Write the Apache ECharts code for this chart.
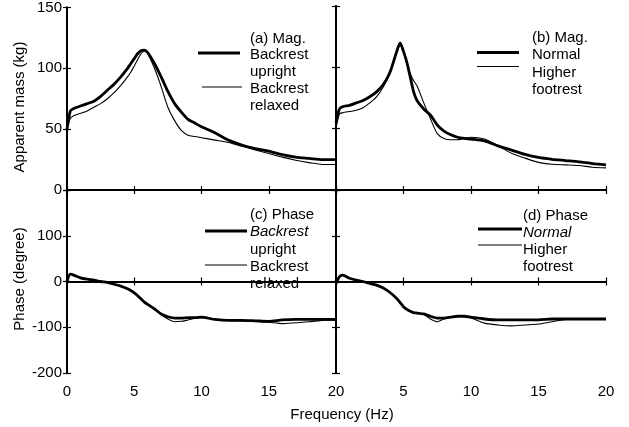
<!DOCTYPE html>
<html>
<head>
<meta charset="utf-8">
<script src="https://cdn.jsdelivr.net/npm/echarts@6/dist/echarts.min.js"></script>
<style>
html,body{margin:0;padding:0;background:#fff;}
#c{width:629px;height:427px;}
</style>
</head>
<body>
<div id="c"></div>
<script>
// ---- data (frequency in Hz) ----
const freq = [0,0.25,0.5,1,1.5,2,2.5,3,3.5,4,4.5,4.75,5,5.25,5.5,5.75,6,6.5,7,7.5,8,8.5,9,9.5,10,11,12,13,14,15,16,17,18,19,20];

// (a) Magnitude, backrest conditions (kg)
const magUpright = [50,65,67,69,71,73,77,82,87,93,100,104,108,112,114.5,115,113,104,93,81,71,64,58,55,52,47,41,37,34,32,29,27,26,25,25];
const magRelaxed = [50,59,61,63,65,68,71,75,80,86,93,97,102,107,112,114,112,100,85,68,57,49,45,44,43,41,39,36,33,30,27,24.5,22.5,21,21];

// (b) Magnitude, footrest conditions (kg)
const magNormal  = [55,66,68,69,71,73,76,80,86,96,113,120,113,104,92,80,73,66,61,53,48,45,43,42,41.5,40,36,32.5,29,26.5,25,24,23,21.5,20.5];
const magHigher  = [50,62,63,64,65,67,71,76,84,95,112,118,112,103,95,89,85,71,58,46,42,41,41,42,43,41.5,36,30,26,22.5,21,20.5,20,18.5,18];

// (c) Phase, backrest conditions (degree)
const phUpright  = [0,16,14,8,5,3,0,-2,-6,-10,-16,-20,-25,-31,-38,-45,-50,-60,-71,-77,-80,-80,-79,-79,-78,-83,-85,-85,-86,-87,-84,-83,-83,-83,-83];
const phRelaxed  = [0,16,14,8,5,3,0,-2,-6,-10,-16,-20,-25,-31,-38,-45,-50,-60,-72,-82,-88,-87,-84,-81,-79,-83,-85,-86,-87,-89,-92,-90,-88,-85,-84];

// (d) Phase, footrest conditions (degree)
const phNormal   = [-4,10,14,7,3,0,-4,-8,-14,-24,-37,-46,-55,-61,-65,-68,-69,-71,-76,-80,-80,-78,-76,-76,-78,-82,-84,-84,-84,-84,-82,-82,-82,-82,-82];
const phHigher   = [-4,10,14,7,3,0,-4,-8,-14,-24,-37,-46,-55,-61,-65,-68,-69,-72,-82,-88,-82,-78,-76,-77,-80,-91,-95,-97,-95,-93,-88,-83,-82,-82,-82];

// ---- axis ticks ----
const xTicks = [0, 5, 10, 15, 20];
const magTicks = [0, 50, 100, 150];
const phaseTicks = [-200, -100, 0, 100, 200];

// ---- texts ----
const xTitle = 'Frequency (Hz)';
const magTitle = 'Apparent mass (kg)';
const phaseTitle = 'Phase (degree)';
const legendA = ['(a) Mag.', 'Backrest', 'upright', 'Backrest', 'relaxed'];
const legendB = ['(b) Mag.', 'Normal', 'Higher', 'footrest'];
const legendC = ['(c) Phase', 'Backrest', 'upright', 'Backrest', 'relaxed'];
const legendD = ['(d) Phase', 'Normal', 'Higher', 'footrest'];

const FONT = '"Liberation Sans", Arial, sans-serif';
const FS = 15;

const grids = [
  {left: 67, top: 6, width: 269, height: 184},
  {left: 336, top: 6, width: 270, height: 184},
  {left: 67, top: 190, width: 269, height: 183},
  {left: 336, top: 190, width: 270, height: 183}
];

const lineAx = {lineStyle: {color: '#000', width: 1.8}};
const tickAx = {inside: true, length: 4, lineStyle: {color: '#000', width: 1.2}};
const lblBase = {color: '#000', fontSize: FS, fontFamily: FONT};

const xAxes = [], yAxes = [];
grids.forEach((g, i) => {
  const bottomRow = i >= 2;
  const xMin = xTicks[0], xMax = xTicks[xTicks.length - 1], xInt = xTicks[1] - xTicks[0];
  xAxes.push({
    type: 'value', gridIndex: i, position: 'bottom', min: xMin, max: xMax, interval: xInt,
    axisLine: lineAx, axisTick: tickAx, splitLine: {show: false},
    axisLabel: Object.assign({}, lblBase, {
      show: bottomRow, margin: 11, showMinLabel: true, showMaxLabel: true,
      formatter: v => (i === 3 && v === 0) ? '' : String(v)
    })
  });
  xAxes.push({
    type: 'value', gridIndex: i, position: 'top', min: xMin, max: xMax, interval: xInt,
    axisLine: lineAx, axisTick: tickAx, splitLine: {show: false}, axisLabel: {show: false}
  });
  const yt = bottomRow ? phaseTicks : magTicks;
  const yMin = yt[0], yMax = yt[yt.length - 1], yInt = yt[1] - yt[0];
  yAxes.push({
    type: 'value', gridIndex: i, position: 'left', min: yMin, max: yMax, interval: yInt,
    axisLine: lineAx, axisTick: tickAx, splitLine: {show: false},
    axisLabel: Object.assign({}, lblBase, {
      show: (i === 0 || i === 2), margin: 5, showMinLabel: true, showMaxLabel: true,
      formatter: v => (i === 2 && v === 200) ? '' : String(v)
    })
  });
  yAxes.push({
    type: 'value', gridIndex: i, position: 'right', min: yMin, max: yMax, interval: yInt,
    axisLine: lineAx, axisTick: tickAx, splitLine: {show: false}, axisLabel: {show: false}
  });
});

function pairs(vals) { return freq.map((f, k) => [f, vals[k]]); }
function ser(i, vals, w, name) {
  return {
    type: 'line', name: name, xAxisIndex: 2 * i, yAxisIndex: 2 * i,
    data: pairs(vals), showSymbol: false, symbol: 'none', smooth: 0.25,
    lineStyle: {color: '#000', width: w}, silent: true, animation: false
  };
}

const series = [
  ser(0, magRelaxed, 1.1, 'Backrest relaxed'),
  ser(0, magUpright, 2.8, 'Backrest upright'),
  ser(1, magHigher, 1.1, 'Higher footrest'),
  ser(1, magNormal, 2.8, 'Normal'),
  ser(2, phRelaxed, 1.1, 'Backrest relaxed'),
  ser(2, phUpright, 2.8, 'Backrest upright'),
  ser(3, phHigher, 1.1, 'Higher footrest'),
  ser(3, phNormal, 2.8, 'Normal')
];

function txt(s, x, y, opts) {
  return Object.assign({
    type: 'text', x: x, y: y, silent: true,
    style: Object.assign({text: s, font: FS + 'px ' + FONT, fill: '#000', textAlign: 'left', textVerticalAlign: 'middle'}, (opts && opts.style) || {})
  }, (opts && opts.el) || {});
}
function seg(x1, x2, y, w) {
  return {type: 'line', silent: true, shape: {x1: x1, y1: y, x2: x2, y2: y}, style: {stroke: '#000', lineWidth: w}};
}
function legendBlock(lines, x, y0, dy, italicIdx) {
  return lines.map((s, k) => txt(s, x, y0 + k * dy, italicIdx === k ? {style: {font: 'italic ' + FS + 'px ' + FONT}} : null));
}

const graphic = [].concat(
  legendBlock(legendA, 250, 38.5, 16.8, -1),
  [seg(198, 240, 53, 3), seg(202, 242, 87, 1.1)],
  legendBlock(legendB, 532, 37.5, 17.5, -1),
  [seg(477, 519, 52.5, 3), seg(477, 519, 66.5, 1.1)],
  legendBlock(legendC, 250, 215, 17.2, 1),
  [seg(205, 247, 231, 3), seg(205, 247, 265, 1.1)],
  legendBlock(legendD, 523, 216, 17, 1),
  [seg(478, 522, 229, 3), seg(478, 522, 245, 1.1)],
  [
    txt(xTitle, 342, 415, {style: {textAlign: 'center'}}),
    txt(magTitle, 20, 107, {style: {textAlign: 'center'}, el: {rotation: Math.PI / 2}}),
    txt(phaseTitle, 20, 279, {style: {textAlign: 'center'}, el: {rotation: Math.PI / 2}})
  ]
);

const chart = echarts.init(document.getElementById('c'), null, {renderer: 'canvas'});
chart.setOption({
  backgroundColor: '#fff',
  animation: false,
  grid: grids.map(g => Object.assign({containLabel: false}, g)),
  xAxis: xAxes,
  yAxis: yAxes,
  series: series,
  graphic: graphic
});
</script>
</body>
</html>
